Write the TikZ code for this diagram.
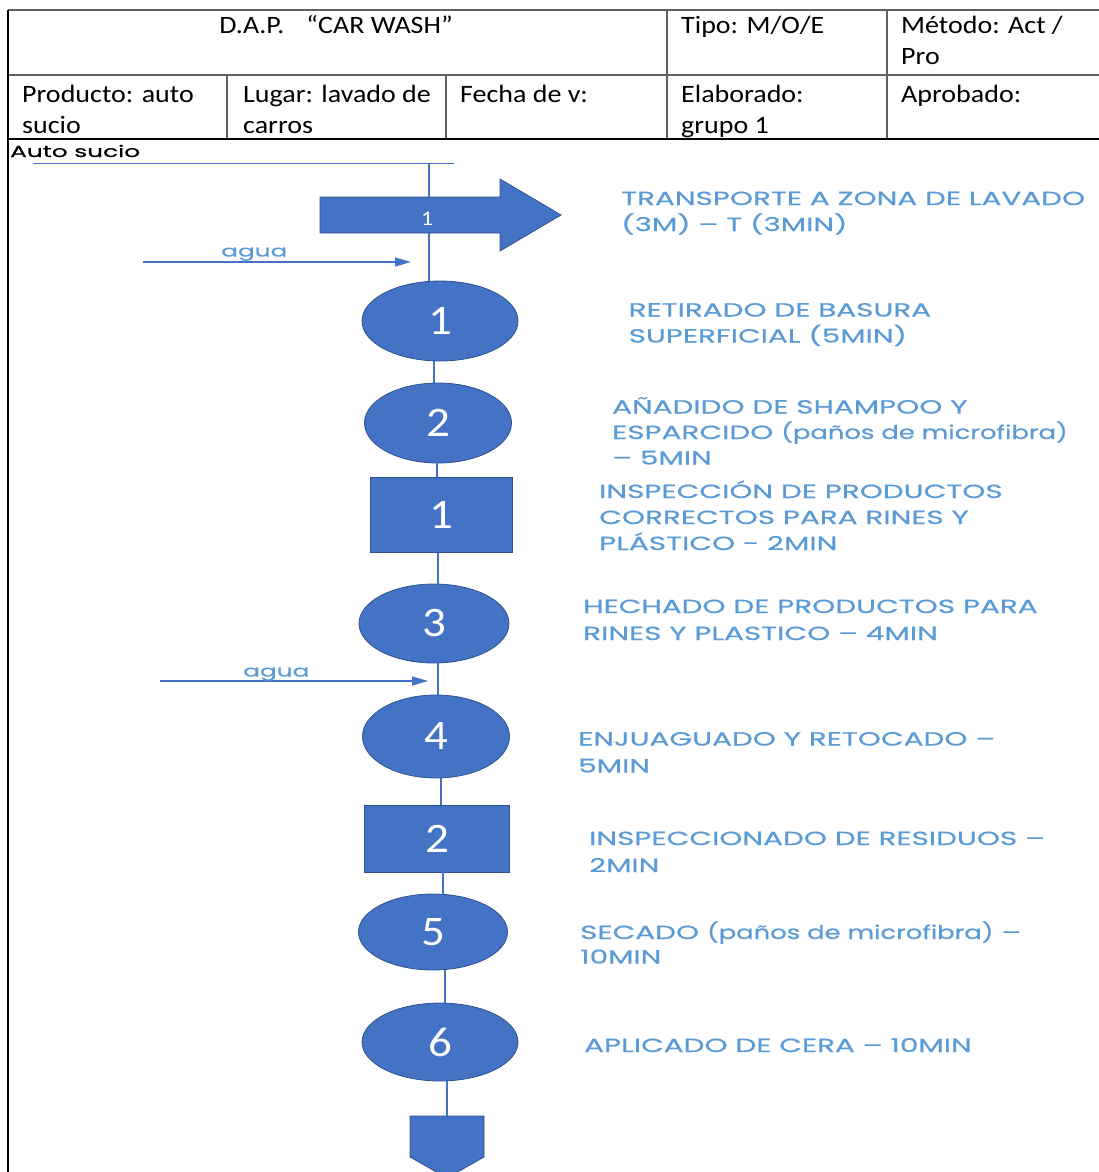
\documentclass[tikz,border=0pt]{standalone}
\usepackage{fontspec}
\setmainfont{Carlito}[FakeStretch=1.12]
\newfontfamily\gothic{Poppins}[FakeStretch=1.55,FakeBold=0.6]
\newfontfamily\gothiclc{Poppins}[FakeStretch=1.36,FakeBold=0.6]
\newfontfamily\calib{Carlito}[FakeStretch=1.12]
\newcommand{\lcpart}[1]{{\gothiclc #1}}
\usetikzlibrary{shapes.geometric,arrows.meta}
\definecolor{shapeblue}{HTML}{4472C4}
\definecolor{edgeblue}{HTML}{2F528F}
\definecolor{textblue}{HTML}{5B9BD5}
\definecolor{gridgray}{HTML}{606060}
\begin{document}
\begin{tikzpicture}[x=1pt,y=-1pt,
  opnode/.style={ellipse, fill=shapeblue, draw=edgeblue, line width=0.8pt, inner sep=0pt,
    text=white, font=\calib\fontsize{42}{42}\selectfont},
  inspnode/.style={rectangle, fill=shapeblue, draw=edgeblue, line width=0.8pt, inner sep=0pt,
    text=white, font=\calib\fontsize{42}{42}\selectfont},
  flow/.style={draw=shapeblue, line width=1.3pt},
  inflow/.style={draw=shapeblue, line width=1.1pt, -{Triangle[length=16pt,width=9pt]}},
  lbl/.style={anchor=base west, inner sep=0pt, text=textblue, font=\gothic\fontsize{19}{#1}\selectfont},
  lbl/.default=26,
  hdr/.style={anchor=base west, inner sep=0pt, text=black, font=\calib\fontsize{25}{31}\selectfont},
  agualbl/.style={anchor=base west, inner sep=0pt, text=textblue, font=\gothic\fontsize{16}{16}\selectfont},
  gridline/.style={draw=gridgray, line width=1.6pt},
  gridblack/.style={draw=black, line width=1.8pt}
]
\useasboundingbox (0,0) rectangle (1099,1172);

% ---- header table ----
\draw[gridline] (8,10) -- (1099,10);
\draw[gridline] (8,75) -- (1099,75);
\draw[gridline] (667,10) -- (667,139);
\draw[gridline] (887,10) -- (887,139);
\draw[gridline] (227,75) -- (227,139);
\draw[gridline] (446,75) -- (446,139);
\draw[gridblack] (8,139) -- (1099,139);
\draw[gridblack, line width=2.2pt] (8,10) -- (8,1172);

\node[hdr, anchor=base] (title) at (336,34) {D.A.P.\hspace{22pt}“CAR WASH”};
\node[hdr] (tipo) at (681,34) {Tipo: M/O/E};
\node[hdr] (metodo) at (901,34) {\begin{tabular}[t]{@{}l@{}}Método: Act /\\Pro\end{tabular}};
\node[hdr] (producto) at (22,102.5) {\begin{tabular}[t]{@{}l@{}}Producto: auto\\sucio\end{tabular}};
\node[hdr] (lugar) at (243,102.5) {\begin{tabular}[t]{@{}l@{}}Lugar: lavado de\\carros\end{tabular}};
\node[hdr] (fecha) at (460,102.5) {Fecha de v:};
\node[hdr] (elab) at (681,102.5) {\begin{tabular}[t]{@{}l@{}}Elaborado:\\grupo 1\end{tabular}};
\node[hdr] (aprob) at (901,102.5) {Aprobado:};

% ---- start ----
\node[anchor=base west, inner sep=0pt, font=\gothic\fontsize{16}{16}\selectfont] (auto) at (10,157) {Auto sucio};
\coordinate (inL) at (33,163);
\coordinate (inR) at (454,163);
\coordinate (start) at (429,163);
\draw[flow, line width=1pt] (inL) -- (inR);

% connector columns
\coordinate (c1) at (434,0);
\coordinate (c2) at (437,0);
\coordinate (c3) at (438,0);
\coordinate (c4) at (438,0);
\coordinate (c5) at (441,0);
\coordinate (c6) at (443,0);
\coordinate (c7) at (445,0);
\coordinate (c8) at (447,0);

% ---- shapes ----
\node[opnode, minimum width=156pt, minimum height=80pt] (o1) at (440,321) {1};
\node[opnode, minimum width=147pt, minimum height=80pt] (o2) at (438,423) {2};
\node[inspnode, minimum width=142pt, minimum height=75pt] (i1) at (441,515) {1};
\node[opnode, minimum width=150pt, minimum height=79pt] (o3) at (434,623.5) {3};
\node[opnode, minimum width=147pt, minimum height=83pt] (o4) at (436,736.5) {4};
\node[inspnode, minimum width=145pt, minimum height=67pt] (i2) at (437,838.5) {2};
\node[opnode, minimum width=149pt, minimum height=76pt] (o5) at (433,932) {5};
\node[opnode, minimum width=156pt, minimum height=78pt] (o6) at (440,1042) {6};
\coordinate (endtop) at (447,1116);

% ---- connectors ----
\draw[flow] (start) -- (o1.north -| start);
\draw[flow] (o1.south -| c1) -- (o2.north -| c1);
\draw[flow] (o2.south -| c2) -- (i1.north -| c2);
\draw[flow] (i1.south -| c3) -- (o3.north -| c3);
\draw[flow] (o3.south -| c4) -- (o4.north -| c4);
\draw[flow] (o4.south -| c5) -- (i2.north -| c5);
\draw[flow] (i2.south -| c6) -- (o5.north -| c6);
\draw[flow] (o5.south -| c7) -- (o6.north -| c7);
\draw[flow] (o6.south -| c8) -- (endtop);

% transport arrow (drawn over the line)
\path[fill=shapeblue, draw=edgeblue, line width=0.8pt]
  (320,197) -- (500,197) -- (500,179) -- (561,215) -- (500,251) -- (500,233) -- (320,233) -- cycle;
\node[inner sep=0pt, text=white, font=\calib\fontsize{21}{21}\selectfont] (t1) at (427,219) {1};

% storage / end symbol
\path[fill=shapeblue, draw=edgeblue, line width=0.8pt]
  (410,1116) -- (484,1116) -- (484,1157) -- (447,1178) -- (410,1157) -- cycle;

% ---- water inputs ----
\coordinate (w1s) at (143,262);
\coordinate (w1e) at (411,262);
\draw[inflow] (w1s) -- (w1e);
\node[agualbl] (agua1) at (221,256.5) {agua};
\coordinate (w2s) at (160,681);
\coordinate (w2e) at (428,681);
\draw[inflow] (w2s) -- (w2e);
\node[agualbl] (agua2) at (243,676.5) {agua};

% ---- labels ----
\node[lbl] (l0) at (621,205) {\begin{tabular}[t]{@{}l@{}}TRANSPORTE A ZONA DE LAVADO\\(3M) – T (3MIN)\end{tabular}};
\node[lbl] (l1) at (628.5,316.5) {\begin{tabular}[t]{@{}l@{}}RETIRADO DE BASURA\\SUPERFICIAL (5MIN)\end{tabular}};
\node[lbl=25.5] (l2) at (612,413.5) {\begin{tabular}[t]{@{}l@{}}AÑADIDO DE SHAMPOO Y\\ESPARCIDO \lcpart{(paños de microfibra)}\\– 5MIN\end{tabular}};
\node[lbl] (l3) at (599,498) {\begin{tabular}[t]{@{}l@{}}INSPECCIÓN DE PRODUCTOS\\CORRECTOS PARA RINES Y\\PLÁSTICO - 2MIN\end{tabular}};
\node[lbl=27] (l4) at (583,613) {\begin{tabular}[t]{@{}l@{}}HECHADO DE PRODUCTOS PARA\\RINES Y PLASTICO – 4MIN\end{tabular}};
\node[lbl=27] (l5) at (578,745.5) {\begin{tabular}[t]{@{}l@{}}ENJUAGUADO Y RETOCADO –\\5MIN\end{tabular}};
\node[lbl=27] (l6) at (589,845) {\begin{tabular}[t]{@{}l@{}}INSPECCIONADO DE RESIDUOS –\\2MIN\end{tabular}};
\node[lbl=24.5] (l7) at (580,939) {\begin{tabular}[t]{@{}l@{}}SECADO \lcpart{(paños de microfibra)} –\\10MIN\end{tabular}};
\node[lbl] (l8) at (584,1052) {APLICADO DE CERA – 10MIN};
\end{tikzpicture}
\end{document}
